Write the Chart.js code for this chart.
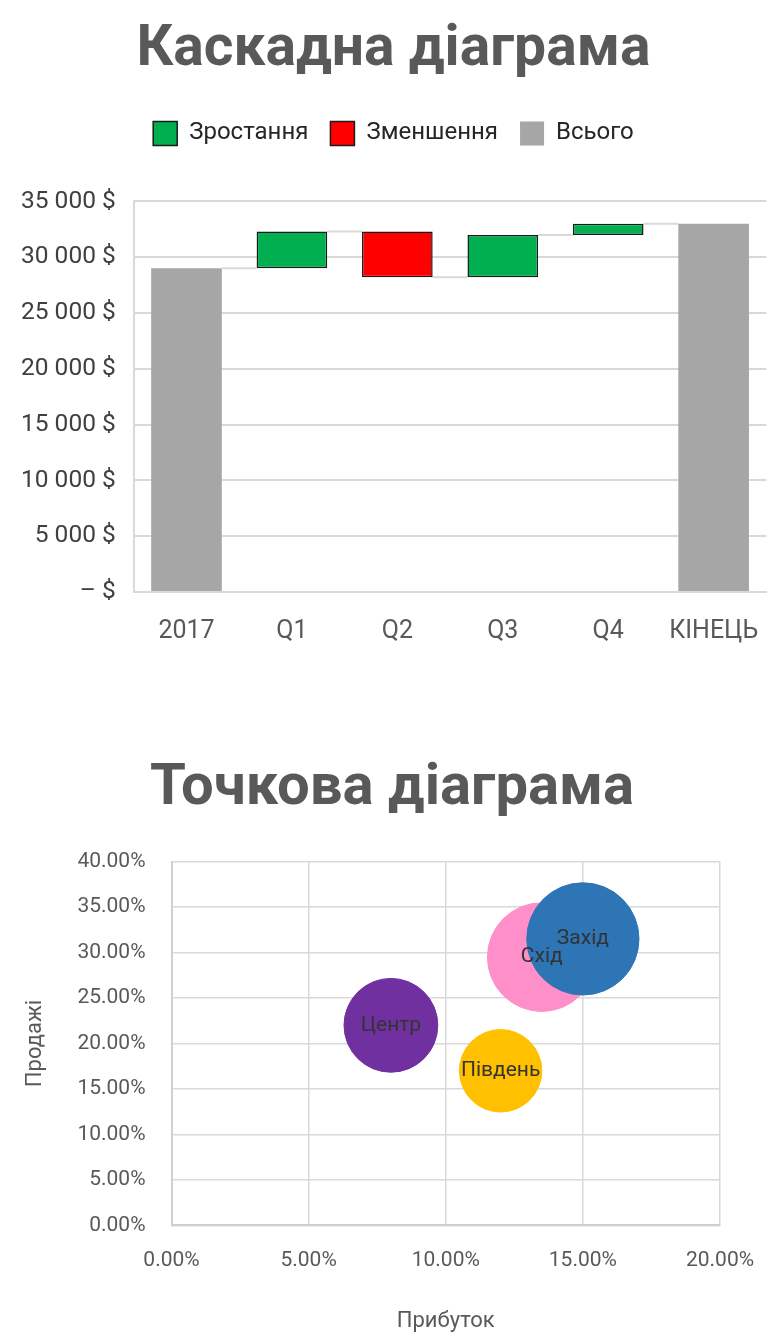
<!DOCTYPE html>
<html lang="uk">
<head>
<meta charset="utf-8">
<script src="https://cdn.jsdelivr.net/npm/chart.js@4.4.1/dist/chart.umd.min.js"></script>
<style>
  body { margin: 0; background: #fff; }
  .box1 { position: relative; width: 784px; height: 690px; }
  .box2 { position: relative; width: 784px; height: 647px; }
</style>
</head>
<body>
<div class="box1"><canvas id="waterfall"></canvas></div>
<div class="box2"><canvas id="bubble"></canvas></div>
<script>
// Каскадна діаграма - дані
const categories = ["2017", "Q1", "Q2", "Q3", "Q4", "КІНЕЦЬ"];
const startTotal = 29000;
const quarterChanges = [3300, -4100, 3800, 1000];

// Точкова діаграма - дані
const regions = ["Центр", "Південь", "Схід", "Захід"];
const profit = [0.08, 0.12, 0.135, 0.15];
const sales = [0.22, 0.17, 0.295, 0.315];
const bubbleSize = [22, 17, 29.5, 31.5];
const regionColors = ["#7030A0", "#FFC000", "#FF8FC8", "#2E75B6"];

const BAR_RATIO = 0.67;
const FONT = "Roboto";

// Bangun data waterfall dari total awal dan perubahan tiap kuartal
const growth = [null];
const decline = [null];
const total = [[0, startTotal]];
const levels = [startTotal];
let running = startTotal;
quarterChanges.forEach(function (ch) {
  const next = running + ch;
  if (ch >= 0) {
    growth.push([running, next]);
    decline.push(null);
  } else {
    decline.push([next, running]);
    growth.push(null);
  }
  total.push(null);
  running = next;
  levels.push(running);
});
growth.push(null);
decline.push(null);
total.push([0, running]);

function formatMoney(v) {
  if (v === 0) return "– $";
  return String(v).replace(/\B(?=(\d{3})+(?!\d))/g, " ") + " $";
}

// Sumbu kosong di kanan, hanya untuk memberi ruang tanpa menggeser judul
function spacerAxis(width) {
  return {
    position: "right",
    display: true,
    grid: { display: false, drawTicks: false },
    border: { display: false },
    ticks: { display: false },
    afterFit: function (scale) { scale.width = width; },
  };
}

// Garis penghubung antar bar
const connectorLines = {
  id: "connectorLines",
  beforeDatasetsDraw(chart) {
    const ctx = chart.ctx;
    const x = chart.scales.x;
    const y = chart.scales.y;
    const half = (x.getPixelForValue(1) - x.getPixelForValue(0)) * BAR_RATIO / 2;
    ctx.save();
    ctx.strokeStyle = "#d9d9d9";
    ctx.lineWidth = 2;
    levels.forEach(function (lv, i) {
      const py = y.getPixelForValue(lv);
      ctx.beginPath();
      ctx.moveTo(x.getPixelForValue(i) + half, py);
      ctx.lineTo(x.getPixelForValue(i + 1) - half, py);
      ctx.stroke();
    });
    ctx.restore();
  }
};

// Tambah jarak di bawah legend
const legendGap = {
  id: "legendGap",
  beforeInit(chart) {
    const fit = chart.legend.fit;
    chart.legend.fit = function () {
      fit.bind(chart.legend)();
      this.height += 46;
    };
  }
};

new Chart(document.getElementById("waterfall"), {
  type: "bar",
  data: {
    labels: categories,
    datasets: [
      {
        label: "Зростання",
        data: growth,
        backgroundColor: "#00B050",
        borderColor: "#1a1a1a",
        borderWidth: 1.5,
        borderSkipped: false,
        grouped: false,
        barPercentage: BAR_RATIO,
        categoryPercentage: 1,
      },
      {
        label: "Зменшення",
        data: decline,
        backgroundColor: "#FF0000",
        borderColor: "#1a1a1a",
        borderWidth: 1.5,
        borderSkipped: false,
        grouped: false,
        barPercentage: BAR_RATIO,
        categoryPercentage: 1,
      },
      {
        label: "Всього",
        data: total,
        backgroundColor: "#A6A6A6",
        borderWidth: 0,
        grouped: false,
        barPercentage: BAR_RATIO,
        categoryPercentage: 1,
      },
    ],
  },
  options: {
    responsive: true,
    maintainAspectRatio: false,
    animation: false,
    layout: { padding: { left: 3, right: 0, bottom: 18 } },
    scales: {
      x: {
        grid: { display: false, drawTicks: false },
        border: { color: "#d9d9d9", width: 2 },
        ticks: { color: "#595959", font: { family: FONT, size: 25 }, padding: 25 },
      },
      y: {
        min: 0,
        max: 35000,
        ticks: {
          stepSize: 5000,
          color: "#404040",
          font: { family: FONT, size: 24.5 },
          padding: 18,
          callback: formatMoney,
        },
        grid: { color: "#d9d9d9", lineWidth: 2, drawTicks: false },
        border: { color: "#d9d9d9", width: 2 },
      },
      yRight: spacerAxis(11),
    },
    plugins: {
      title: {
        display: true,
        text: "Каскадна діаграма",
        color: "#595959",
        font: { family: FONT, size: 57, weight: "bold" },
        padding: { top: 17, bottom: 14 },
      },
      legend: {
        display: true,
        labels: {
          color: "#262626",
          font: { family: FONT, size: 24 },
          boxWidth: 24,
          boxHeight: 24,
          padding: 22,
        },
      },
      tooltip: { enabled: false },
    },
  },
  plugins: [connectorLines, legendGap],
});

// Label di tengah gelembung
const bubbleLabels = {
  id: "bubbleLabels",
  afterDatasetsDraw(chart) {
    const ctx = chart.ctx;
    ctx.save();
    ctx.font = "21px " + FONT;
    ctx.fillStyle = "#333333";
    ctx.textAlign = "center";
    ctx.textBaseline = "middle";
    chart.getDatasetMeta(0).data.forEach(function (pt, i) {
      ctx.fillText(regions[i], pt.x, pt.y);
    });
    ctx.restore();
  }
};

new Chart(document.getElementById("bubble"), {
  type: "bubble",
  data: {
    datasets: [
      {
        label: "Регіони",
        data: regions.map(function (r, i) {
          return { x: profit[i], y: sales[i], r: Math.sqrt(bubbleSize[i]) * 10 };
        }),
        backgroundColor: regionColors,
        borderColor: regionColors,
        borderWidth: 1,
      },
    ],
  },
  options: {
    responsive: true,
    maintainAspectRatio: false,
    animation: false,
    layout: { padding: { left: 0, right: 0, bottom: 0 } },
    scales: {
      x: {
        min: 0,
        max: 0.2,
        ticks: {
          stepSize: 0.05,
          color: "#595959",
          font: { family: FONT, size: 21 },
          padding: 23,
          callback: function (v) { return (v * 100).toFixed(2) + "%"; },
        },
        grid: { color: "#d9d9d9", lineWidth: 1.5, drawTicks: false },
        border: { color: "#d0d0d0", width: 2 },
        title: {
          display: true,
          text: "Прибуток",
          color: "#595959",
          font: { family: FONT, size: 22 },
          padding: { top: 12, bottom: 2 },
        },
      },
      y: {
        min: 0,
        max: 0.4,
        ticks: {
          stepSize: 0.05,
          color: "#595959",
          font: { family: FONT, size: 21 },
          padding: 26,
          callback: function (v) { return (v * 100).toFixed(2) + "%"; },
        },
        grid: { color: "#d9d9d9", lineWidth: 1.5, drawTicks: false },
        border: { color: "#d0d0d0", width: 2 },
        title: {
          display: true,
          text: "Продажі",
          color: "#595959",
          font: { family: FONT, size: 22 },
          padding: { top: 22, bottom: 3 },
        },
      },
      yRight: spacerAxis(64),
    },
    plugins: {
      title: {
        display: true,
        text: "Точкова діаграма",
        color: "#595959",
        font: { family: FONT, size: 58, weight: "bold" },
        padding: { top: 65, bottom: 37 },
      },
      legend: { display: false },
      tooltip: { enabled: false },
    },
  },
  plugins: [bubbleLabels],
});
</script>
</body>
</html>
